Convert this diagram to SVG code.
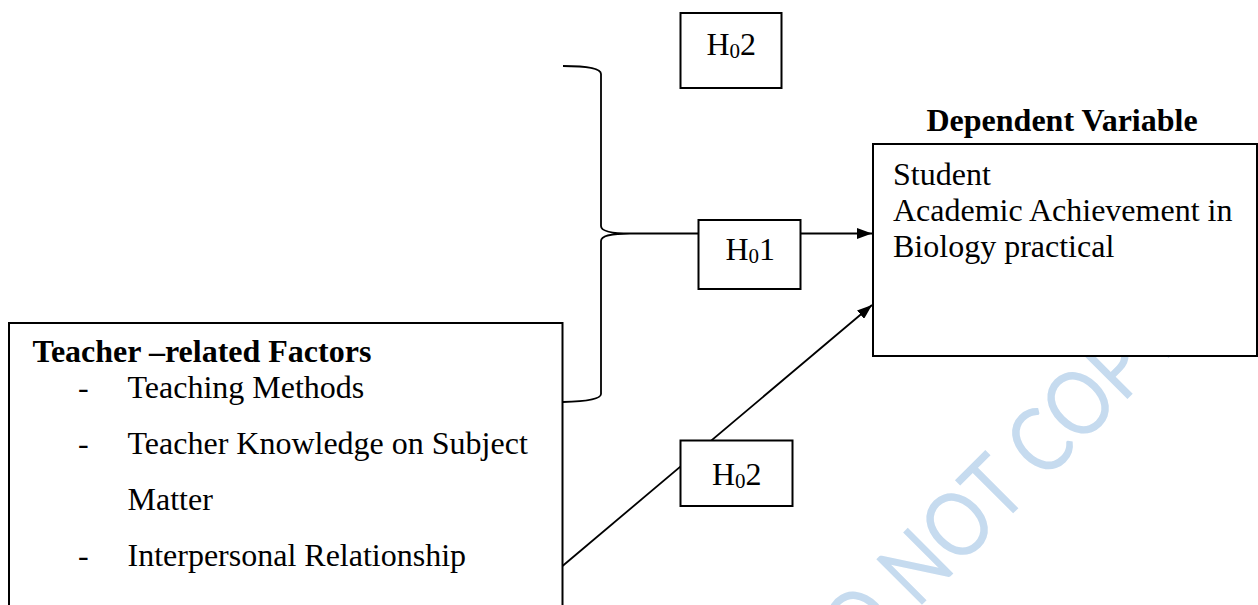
<svg xmlns="http://www.w3.org/2000/svg" width="1258" height="605" viewBox="0 0 1258 605">
<style>
  .box { fill: #ffffff; stroke: #000000; stroke-width: 2; }
  .t { font-family: "Liberation Serif", "Times New Roman", serif; font-size: 32px; fill: #000000; }
  .b { font-weight: bold; }
  .sub { font-size: 21px; }
  .ln { fill: none; stroke: #000000; stroke-width: 1.8; }
  .wm { font-family: Lato, "Open Sans", sans-serif; font-size: 90px; fill: #C6DBEF; }
</style>
<defs>
  <marker id="arr" viewBox="0 0 10 10" refX="10" refY="5" markerWidth="15" markerHeight="11" markerUnits="userSpaceOnUse" orient="auto" preserveAspectRatio="none">
    <path d="M0,0 L10,5 L0,10 Z" fill="#000000"/>
  </marker>
</defs>
<rect width="1258" height="605" fill="#ffffff"/>
<text class="wm" x="0" y="0" text-anchor="middle" transform="translate(1003.3 523.3) rotate(-45) scale(0.85 1)">DO NOT COPY</text>
<g id="connectors">
  <path class="ln" d="M563,66 Q601,66 601,74 L601,226 Q601,233.5 630,233.5 Q601,233.5 601,241 L601,394 Q601,401 563,402"/>
  <line class="ln" x1="630" y1="233.5" x2="872" y2="233.5" marker-end="url(#arr)"/>
  <line class="ln" x1="562.5" y1="566" x2="872" y2="305" marker-end="url(#arr)"/>
</g>
<g id="h02-top">
  <rect class="box" x="680.5" y="13" width="101" height="75"/>
  <text class="t" x="706.5" y="54.5">H<tspan class="sub" dy="3">0</tspan><tspan dy="-3">2</tspan></text>
</g>
<g id="h01">
  <rect class="box" x="698.5" y="220" width="102" height="69"/>
  <text class="t" x="725.5" y="260">H<tspan class="sub" dy="3">0</tspan><tspan dy="-3">1</tspan></text>
</g>
<g id="h02-bottom">
  <rect class="box" x="680.5" y="440.5" width="112" height="65.5"/>
  <text class="t" x="712" y="485">H<tspan class="sub" dy="3">0</tspan><tspan dy="-3">2</tspan></text>
</g>
<g id="dependent">
  <text class="t b" x="926.5" y="131">Dependent Variable</text>
  <rect class="box" x="873" y="144" width="384" height="212"/>
  <text class="t" x="893" y="185">Student</text>
  <text class="t" x="893" y="221">Academic Achievement in</text>
  <text class="t" x="893" y="257">Biology practical</text>
</g>
<g id="teacher-factors">
  <rect class="box" x="9" y="323" width="553.5" height="300"/>
  <text class="t b" x="32.5" y="362">Teacher –related Factors</text>
  <text class="t" x="78" y="398">-</text>
  <text class="t" x="127.5" y="398">Teaching Methods</text>
  <text class="t" x="78" y="454">-</text>
  <text class="t" x="127.5" y="454">Teacher Knowledge on Subject</text>
  <text class="t" x="127.5" y="510">Matter</text>
  <text class="t" x="78" y="566">-</text>
  <text class="t" x="127.5" y="566">Interpersonal Relationship</text>
</g>
</svg>
